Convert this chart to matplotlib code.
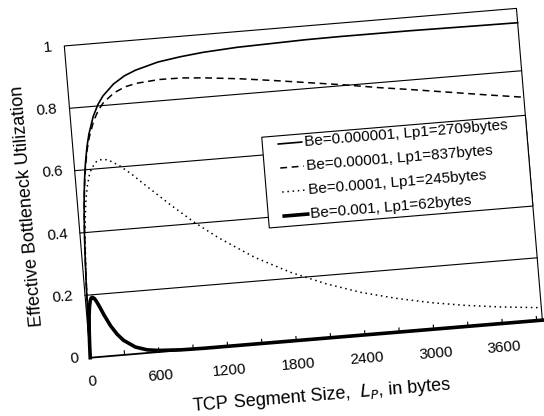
import matplotlib
matplotlib.use("Agg")
import matplotlib.pyplot as plt
from matplotlib.patches import Rectangle
from matplotlib.transforms import Affine2D

plt.rcParams["font.family"] = ["Liberation Sans", "DejaVu Sans"]

# TCP segment size L_P (bytes) and effective bottleneck utilization per bit error rate
SEGMENT_SIZE = [0, 5, 10, 20, 30, 40, 50, 60, 70, 80,
                100, 125, 150, 200, 250, 300, 400, 500, 600, 800,
                1000, 1200, 1500, 1800, 2100, 2400, 2700, 3000, 3300, 3600, 3950]
UTIL_BE_1E6 = [0, 0.077, 0.143, 0.250, 0.333, 0.400, 0.454, 0.500, 0.538, 0.571,
               0.624, 0.675, 0.713, 0.768, 0.805, 0.831, 0.866, 0.889, 0.904, 0.924,
               0.935, 0.943, 0.950, 0.953, 0.956, 0.957, 0.957, 0.957, 0.956, 0.955, 0.954]
UTIL_BE_1E5 = [0, 0.077, 0.142, 0.248, 0.331, 0.397, 0.451, 0.495, 0.533, 0.565,
               0.617, 0.666, 0.702, 0.753, 0.787, 0.810, 0.838, 0.854, 0.862, 0.868,
               0.867, 0.861, 0.849, 0.834, 0.818, 0.802, 0.784, 0.768, 0.751, 0.734, 0.715]
UTIL_BE_1E4 = [0, 0.073, 0.135, 0.235, 0.310, 0.369, 0.416, 0.454, 0.485, 0.511,
               0.550, 0.583, 0.604, 0.625, 0.629, 0.625, 0.602, 0.571, 0.536, 0.468,
               0.404, 0.348, 0.276, 0.219, 0.173, 0.136, 0.108, 0.085, 0.067, 0.053, 0.040]
UTIL_BE_1E3 = [0, 0.046, 0.082, 0.132, 0.162, 0.180, 0.189, 0.192, 0.190, 0.187,
               0.174, 0.154, 0.133, 0.096, 0.068, 0.047, 0.022, 0.010, 0.005, 0.001,
               0, 0, 0, 0, 0, 0, 0, 0, 0, 0, 0]

SERIES_LABELS = [
    "Be=0.000001, Lp1=2709bytes",
    "Be=0.00001, Lp1=837bytes",
    "Be=0.0001, Lp1=245bytes",
    "Be=0.001, Lp1=62bytes",
]
X_TICKS = [0, 600, 1200, 1800, 2400, 3000, 3600]
X_TICK_MARKS = [300, 600, 900, 1200, 1500, 1800, 2100, 2400, 2700, 3000, 3300, 3600, 3900]
Y_TICKS = [0, 0.2, 0.4, 0.6, 0.8, 1]
Y_TICK_LABELS = ["0", "0.2", "0.4", "0.6", "0.8", "1"]
X_MAX = 3950

TILT_DEG = 4.75  # the scanned figure sits slightly rotated on the page


def main() -> None:
    fig = plt.figure(figsize=(5.44, 4.16), dpi=100)
    ax = fig.add_axes([0.1406, 0.184, 0.834, 0.752])
    ax.axis("off")
    ax.set_xlim(0, X_MAX)
    ax.set_ylim(0, 1)
    ax.set_autoscale_on(False)

    # rotate everything around the centre of the plot box (display pixels)
    tilt = Affine2D().rotate_deg_around(303.5, 233.0, TILT_DEG)
    T = ax.transData + tilt
    A = ax.transAxes + tilt

    # gridlines and frame
    for y in Y_TICKS[1:-1]:
        ax.plot([0, X_MAX], [y, y], color="black", lw=0.8, transform=T, clip_on=False, zorder=1)
    ax.plot([0, 0, X_MAX, X_MAX], [0, 1, 1, 0], color="black", lw=0.8, transform=T, clip_on=False, zorder=1)
    ax.plot([0, X_MAX], [0, 0], color="black", lw=1.3, transform=T, clip_on=False, zorder=2)
    for xt in X_TICK_MARKS:
        ax.plot([xt, xt], [0, 0.013], color="black", lw=0.8, transform=T, clip_on=False, zorder=2)

    series = [UTIL_BE_1E6, UTIL_BE_1E5, UTIL_BE_1E4, UTIL_BE_1E3]
    styles = [("-", 1.2), ((0, (4.5, 3)), 1.1), ((0, (1, 2.4)), 1.1), ("-", 2.6)]
    for values, (ls, lw) in zip(series, styles):
        ax.plot(SEGMENT_SIZE, values, color="black", ls=ls, lw=lw,
                transform=T, clip_on=False, zorder=3)

    # tick labels
    for xt in X_TICKS:
        ax.text(xt, -0.077, str(xt), transform=T, rotation=TILT_DEG, rotation_mode="anchor",
                ha="center", va="center", fontsize=11)
    for yt, lab in zip(Y_TICKS, Y_TICK_LABELS):
        ax.text(-104, yt, lab, transform=T, rotation=TILT_DEG, rotation_mode="anchor",
                ha="right", va="center", fontsize=11)

    # axis titles
    ax.text(0.5, -0.183, "TCP Segment Size,  $L_P$, in bytes", transform=A,
            rotation=TILT_DEG, rotation_mode="anchor", ha="center", va="center", fontsize=13)
    ax.text(-0.11, 0.5, "Effective Bottleneck Utilization", transform=A,
            rotation=90 + TILT_DEG, rotation_mode="anchor", ha="center", va="center", fontsize=13)

    # legend box drawn in axes fraction so it tilts with the plot
    box = Rectangle((0.417, 0.366), 0.583, 0.291, facecolor="white", edgecolor="black",
                    lw=0.8, transform=A, clip_on=False, zorder=4)
    ax.add_patch(box)
    row_y = [0.631, 0.554, 0.477, 0.400]
    for yr, lab, (ls, lw) in zip(row_y, SERIES_LABELS, styles):
        ax.plot([0.452, 0.504], [yr, yr], color="black", ls=ls, lw=lw,
                transform=A, clip_on=False, zorder=5)
        ax.text(0.511, yr, lab, transform=A, rotation=TILT_DEG, rotation_mode="anchor",
                ha="left", va="center", fontsize=11, zorder=5)

    fig.savefig("out.png", dpi=100)


if __name__ == "__main__":
    main()
